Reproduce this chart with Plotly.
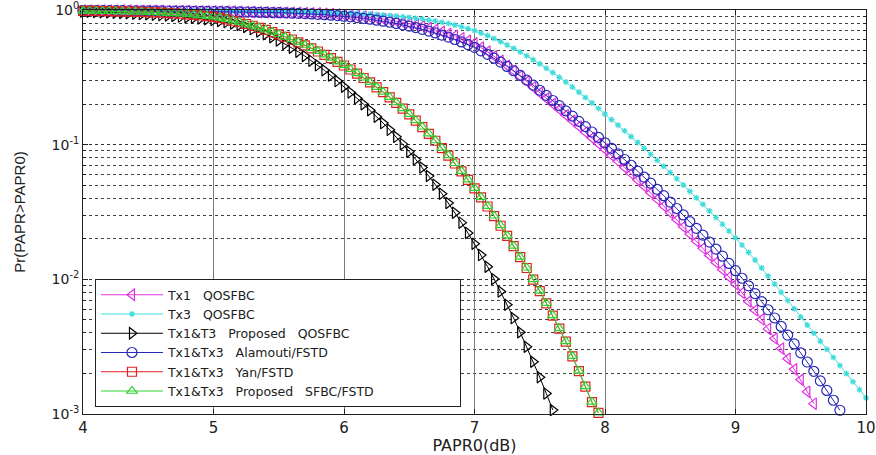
import plotly.graph_objects as go

# PAPR0 sample grid (dB): every 0.05 dB starting at 4 dB
papr0_start = 4.0
papr0_step = 0.05

# log10 of CCDF values, one list per curve
tx1_qosfbc_log = [
    -0.003, -0.003, -0.003, -0.0035, -0.004, -0.004, -0.004, -0.0045, -0.005, -0.005,
    -0.005, -0.0055, -0.006, -0.0065, -0.007, -0.0075, -0.008, -0.0085, -0.009, -0.0095,
    -0.010, -0.0105, -0.011, -0.012, -0.013, -0.014, -0.015, -0.016, -0.017, -0.018,
    -0.019, -0.0195, -0.020, -0.021, -0.022, -0.0235, -0.025, -0.0275, -0.030, -0.033,
    -0.0365, -0.040, -0.0445, -0.049, -0.0545, -0.0605, -0.067, -0.074, -0.082, -0.091,
    -0.100, -0.110, -0.1215, -0.134, -0.1465, -0.161, -0.1755, -0.192, -0.209, -0.228,
    -0.247, -0.278, -0.309, -0.343, -0.377, -0.414, -0.451, -0.491, -0.531, -0.573,
    -0.616, -0.657, -0.698, -0.739, -0.781, -0.823, -0.865, -0.907, -0.950, -0.993,
    -1.036, -1.080, -1.124, -1.169, -1.215, -1.262, -1.309, -1.357, -1.406, -1.456,
    -1.506, -1.558, -1.610, -1.663, -1.717, -1.770, -1.823, -1.875, -1.928, -1.982,
    -2.036, -2.100, -2.164, -2.230, -2.297, -2.368, -2.439, -2.514, -2.590, -2.668,
    -2.746, -2.834, -2.923,
]

tx3_qosfbc_log = [
    -0.003, -0.003, -0.003, -0.003, -0.003, -0.0035, -0.004, -0.004, -0.004, -0.004,
    -0.004, -0.0045, -0.005, -0.005, -0.005, -0.0055, -0.006, -0.006, -0.006, -0.0065,
    -0.007, -0.0075, -0.008, -0.0085, -0.009, -0.0095, -0.010, -0.0105, -0.011, -0.0115,
    -0.012, -0.0125, -0.013, -0.014, -0.015, -0.016, -0.017, -0.018, -0.019, -0.020,
    -0.021, -0.023, -0.025, -0.0275, -0.030, -0.0335, -0.037, -0.041, -0.045, -0.050,
    -0.055, -0.061, -0.067, -0.0745, -0.082, -0.091, -0.100, -0.112, -0.124, -0.138,
    -0.153, -0.171, -0.190, -0.212, -0.235, -0.260, -0.285, -0.312, -0.340, -0.370,
    -0.400, -0.432, -0.465, -0.500, -0.535, -0.572, -0.610, -0.650, -0.690, -0.731,
    -0.773, -0.814, -0.855, -0.897, -0.940, -0.983, -1.027, -1.071, -1.116, -1.161,
    -1.207, -1.253, -1.300, -1.347, -1.395, -1.443, -1.492, -1.541, -1.591, -1.641,
    -1.692, -1.745, -1.800, -1.857, -1.915, -1.975, -2.035, -2.096, -2.157, -2.218,
    -2.280, -2.340, -2.400, -2.460, -2.520, -2.580, -2.640, -2.700, -2.760, -2.820,
    -2.880,
]

tx13_prop_qosfbc_log = [
    -0.012, -0.013, -0.015, -0.016, -0.018, -0.020, -0.022, -0.024, -0.027, -0.029,
    -0.032, -0.035, -0.038, -0.041, -0.045, -0.049, -0.053, -0.058, -0.063, -0.069,
    -0.075, -0.082, -0.090, -0.100, -0.112, -0.126, -0.142, -0.160, -0.180, -0.202,
    -0.226, -0.252, -0.280, -0.310, -0.342, -0.376, -0.411, -0.448, -0.487, -0.528,
    -0.570, -0.613, -0.656, -0.700, -0.745, -0.792, -0.840, -0.890, -0.942, -0.996,
    -1.052, -1.110, -1.170, -1.233, -1.297, -1.364, -1.433, -1.505, -1.579, -1.656,
    -1.736, -1.820, -1.906, -1.997, -2.090, -2.188, -2.288, -2.393, -2.500, -2.612,
    -2.727, -2.847, -2.970,
]

tx13_alamouti_log = [
    -0.004, -0.004, -0.004, -0.0045, -0.005, -0.005, -0.005, -0.0055, -0.006, -0.006,
    -0.006, -0.0065, -0.007, -0.0075, -0.008, -0.0085, -0.009, -0.0095, -0.010, -0.0105,
    -0.011, -0.0115, -0.012, -0.013, -0.014, -0.015, -0.016, -0.017, -0.018, -0.019,
    -0.020, -0.0215, -0.023, -0.025, -0.027, -0.0295, -0.032, -0.035, -0.0385, -0.042,
    -0.0465, -0.051, -0.0565, -0.062, -0.0685, -0.0755, -0.083, -0.091, -0.100, -0.110,
    -0.120, -0.131, -0.1435, -0.157, -0.1705, -0.186, -0.2015, -0.219, -0.237, -0.257,
    -0.277, -0.303, -0.329, -0.358, -0.387, -0.419, -0.451, -0.486, -0.521, -0.558,
    -0.596, -0.634, -0.672, -0.710, -0.749, -0.788, -0.827, -0.866, -0.906, -0.946,
    -0.986, -1.027, -1.068, -1.110, -1.153, -1.197, -1.241, -1.286, -1.332, -1.379,
    -1.426, -1.474, -1.522, -1.571, -1.621, -1.672, -1.723, -1.775, -1.828, -1.882,
    -1.936, -1.992, -2.048, -2.106, -2.165, -2.226, -2.287, -2.350, -2.414, -2.480,
    -2.546, -2.614, -2.683, -2.754, -2.825, -2.898, -2.972,
]

tx13_yan_log = [
    -0.006, -0.0065, -0.007, -0.008, -0.009, -0.010, -0.011, -0.012, -0.013, -0.0145,
    -0.016, -0.018, -0.020, -0.0225, -0.025, -0.028, -0.032, -0.036, -0.041, -0.046,
    -0.051, -0.059, -0.069, -0.080, -0.091, -0.104, -0.117, -0.132, -0.147, -0.164,
    -0.181, -0.200, -0.219, -0.240, -0.262, -0.285, -0.308, -0.333, -0.358, -0.385,
    -0.412, -0.442, -0.472, -0.505, -0.538, -0.574, -0.610, -0.649, -0.689, -0.732,
    -0.775, -0.822, -0.869, -0.920, -0.971, -1.026, -1.081, -1.140, -1.199, -1.262,
    -1.325, -1.392, -1.459, -1.530, -1.602, -1.678, -1.754, -1.835, -1.916, -2.002,
    -2.088, -2.179, -2.270, -2.366, -2.463, -2.572, -2.682, -2.797, -2.912, -2.992,
]

tx13_prop_sfbc_log = [
    -0.006, -0.0065, -0.007, -0.008, -0.009, -0.010, -0.011, -0.012, -0.013, -0.0145,
    -0.016, -0.018, -0.020, -0.0225, -0.025, -0.028, -0.031, -0.035, -0.040, -0.045,
    -0.050, -0.058, -0.068, -0.079, -0.090, -0.103, -0.116, -0.131, -0.146, -0.163,
    -0.180, -0.199, -0.218, -0.239, -0.260, -0.283, -0.306, -0.331, -0.356, -0.383,
    -0.410, -0.440, -0.470, -0.503, -0.536, -0.572, -0.608, -0.647, -0.687, -0.730,
    -0.773, -0.820, -0.867, -0.918, -0.969, -1.024, -1.079, -1.138, -1.197, -1.260,
    -1.323, -1.390, -1.457, -1.528, -1.600, -1.676, -1.752, -1.833, -1.914, -2.000,
    -2.086, -2.177, -2.268, -2.364, -2.461, -2.570, -2.680, -2.795, -2.910, -2.990,
]

legend_names = [
    "Tx1   QOSFBC",
    "Tx3   QOSFBC",
    "Tx1&T3   Proposed   QOSFBC",
    "Tx1&Tx3   Alamouti/FSTD",
    "Tx1&Tx3   Yan/FSTD",
    "Tx1&Tx3   Proposed   SFBC/FSTD",
]
# plain spaces above are shown as no-break spaces so the gaps keep their width
legend_names = [n.replace(" ", "\u00a0") for n in legend_names]
legend_pad = "\u00a0" * 20

x_tick_vals = [4, 5, 6, 7, 8, 9, 10]
y_tick_vals = [1e-3, 1e-2, 1e-1, 1e0]
y_tick_text = ["10<sup>-3</sup>", "10<sup>-2</sup>", "10<sup>-1</sup>", "10<sup>0</sup>"]
y_minor_vals = [m * 10.0 ** e for e in (-3, -2, -1) for m in range(2, 10)]

series = [
    (tx1_qosfbc_log, "#E030E0", "triangle-left-open", 10),
    (tx3_qosfbc_log, "#40DCDC", "asterisk-open", 5),
    (tx13_prop_qosfbc_log, "#000000", "triangle-right-open", 10),
    (tx13_alamouti_log, "#2828B8", "circle-open", 10),
    (tx13_yan_log, "#E02020", "square-open", 9),
    (tx13_prop_sfbc_log, "#30D030", "triangle-up-open", 9),
]

fig = go.Figure()
for i, ((vals, color, symbol, size), name) in enumerate(zip(series, legend_names)):
    xs = [round(papr0_start + papr0_step * k, 2) for k in range(len(vals))]
    ys = [10.0 ** v for v in vals]
    label = name + (legend_pad if i == len(series) - 1 else "")
    fig.add_trace(go.Scatter(
        x=xs, y=ys, name=label, mode="lines+markers",
        line=dict(color=color, width=1),
        marker=dict(symbol=symbol, size=size, color=color, line=dict(color=color, width=1.2)),
        cliponaxis=False,
    ))

arial = "Arial, Liberation Sans, sans-serif"
wide = "DejaVu Sans, sans-serif"

fig.update_layout(
    width=876, height=455,
    margin=dict(l=83, r=10, t=10, b=41, autoexpand=False),
    paper_bgcolor="white", plot_bgcolor="white",
    font=dict(family=arial, size=14, color="#202020"),
    showlegend=True,
    legend=dict(
        x=0.0153, y=0.017, xanchor="left", yanchor="bottom",
        bgcolor="white", bordercolor="#202020", borderwidth=1,
        font=dict(family=wide, size=12.5, color="#202020"),
        itemwidth=62, tracegroupgap=0,
    ),
    xaxis=dict(
        range=[4, 10], tickvals=x_tick_vals, ticktext=[str(v) for v in x_tick_vals],
        showgrid=True, gridcolor="#7a7a7a", gridwidth=1,
        showline=True, linecolor="#202020", linewidth=1, mirror="ticks",
        ticks="inside", ticklen=5, tickcolor="#202020",
        zeroline=False, automargin=False, ticklabeloverflow="allow",
        title=dict(text="PAPR0(dB)", standoff=4, font=dict(family=wide, size=16)),
        tickfont=dict(family=wide, size=15),
    ),
    yaxis=dict(
        type="log", range=[-3, 0],
        tickvals=y_tick_vals, ticktext=y_tick_text,
        showgrid=True, gridcolor="#303030", gridwidth=1, griddash="dot",
        showline=True, linecolor="#202020", linewidth=1, mirror="ticks",
        ticks="inside", ticklen=5, tickcolor="#202020",
        zeroline=False, automargin=False, ticklabeloverflow="allow",
        minor=dict(tickvals=y_minor_vals, showgrid=True, gridcolor="#404040",
                   griddash="dot", gridwidth=1, ticks="inside", ticklen=3,
                   tickcolor="#202020"),
        title=dict(text="Pr(PAPR>PAPR0)", standoff=22, font=dict(family=arial, size=15)),
        tickfont=dict(family=wide, size=14),
    ),
)

fig.write_html("out.html")
